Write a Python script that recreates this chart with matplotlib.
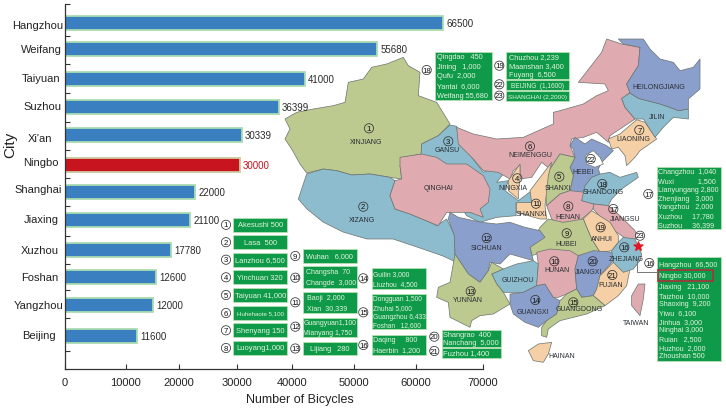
import matplotlib
matplotlib.use("Agg")
import matplotlib.pyplot as plt
from matplotlib.patches import Polygon, Circle, Rectangle

# ---------- data ----------
cities = ["Hangzhou", "Weifang", "Taiyuan", "Suzhou", "Xi'an", "Ningbo",
          "Shanghai", "Jiaxing", "Xuzhou", "Foshan", "Yangzhou", "Beijing"]
# printed value next to each bar
printed_values = [66500, 55680, 41000, 36399, 30339, 30000,
                  22000, 21100, 17780, 12600, 12000, 11600]
# bar length as it reads against the x axis
bar_lengths = [63350, 52290, 40220, 35860, 29660, 29330,
               21790, 20950, 17760, 15250, 14750, 12070]
x_tick_labels = ["0", "10000", "20000", "30000", "40000", "50000", "60000", "70000"]

box_1 = ["Akesushi 500"]
box_2 = ["Lasa  500"]
box_3 = ["Lanzhou 6,500"]
box_4 = ["Yinchuan 320"]
box_5 = ["Taiyuan 41,000"]
box_6 = ["Huhehaote 5,100"]
box_7 = ["Shenyang 150"]
box_8 = ["Luoyang1,000"]
box_9 = ["Wuhan   6,000"]
box_10 = ["Changsha  70", "Changde  3,000"]
box_11 = ["Baoji  2,000", "Xian  30,339"]
box_12 = ["Guangyuan1,100", "Mianyang 1,750"]
box_13 = ["Lijiang   280"]
box_14 = ["Guilin 3,000", "Liuzhou  4,500"]
box_15 = ["Dongguan 1,500", "Zhuhai 5,000", "Guangzhou 6,433", "Foshan   12,600"]
box_16a = ["Daqing     800", "Haerbin  1,200"]
box_16b = ["Hangzhou  66,500", "Ningbo 30,000", "Jiaxing   21,100", "Taizhou  10,000",
           "Shaoxing  9,200", "Yiwu  6,100", "Jinhua  3,000", "Ninghai 3,000",
           "Ruian   2,500", "Huzhou  2,000", "Zhoushan 500"]
box_17 = ["Changzhou  1,040", "Wuxi            1,500", "Lianyungang 2,800", "Zhenjiang   3,000",
          "Yangzhou   2,000", "Xuzhou     17,780", "Suzhou     36,399"]
box_18 = ["Qingdao   450", "Jining   1,000", "Qufu  2,000", "Yantai  6,000", "Weifang 55,680"]
box_19 = ["Chuzhou 2,239", "Maanshan 3,400", "Fuyang  6,500"]
box_20 = ["Shangrao  400", "Nanchang  5,000"]
box_21 = ["Fuzhou 1,400"]
box_22 = ["BEIJING  (1,1600)"]
box_23 = ["SHANGHAI (2,2000)"]

province_names = ["XINJIANG", "XIZANG", "GANSU", "QINGHAI", "NEIMENGGU", "NINGXIA", "SHANXI",
                  "SHANNXI", "HEBEI", "SHANDONG", "HENAN", "LIAONING", "JILIN", "HEILONGJIANG",
                  "JIANGSU", "ANHUI", "HUBEI", "SICHUAN", "HUNAN", "JIANGXI", "ZHEJIANG",
                  "FUJIAN", "GUIZHOU", "YUNNAN", "GUANGXI", "GUANGDONG", "HAINAN", "TAIWAN"]

# ---------- layout (pixels of the 726x410 picture) ----------
AX_L, AX_R, AX_T, AX_B = 65.0, 482.7, 5.0, 370.0
bar_rows_px = [24, 50, 80, 108, 136, 166, 193, 221, 251, 278, 306, 337]
y_tick_px = [5, 37, 65, 94, 123, 151, 179, 207, 237, 265, 291, 319, 352]
x_tick_px = [65, 125.7, 179, 236.7, 292.3, 354.3, 416, 482.7]
city_label_px = [(37.5, 26), (41.5, 50), (41.5, 79), (42, 107), (40, 139), (41, 163),
                 (38.5, 190), (41.5, 220), (40, 251), (39.5, 278), (38.5, 306), (39, 336)]
BLUE, RED = "#3a7fc0", "#c8141f"
EDGE_BLUE, EDGE_RED = "#a9dcb0", "#cdcaa0"
GREEN_BOX = "#0e9a49"
BOX_TEXT = "#e4f4de"
plt.rcParams["font.family"] = ["Liberation Sans", "DejaVu Sans"]

fig = plt.figure(figsize=(7.26, 4.10), dpi=100)
ax = fig.add_axes([AX_L / 726, (410 - AX_B) / 410, (AX_R - AX_L) / 726, (AX_B - AX_T) / 410])
ov = fig.add_axes([0, 0, 1, 1], zorder=5)
ov.set_xlim(0, 726); ov.set_ylim(410, 0); ov.axis("off"); ov.patch.set_alpha(0)
mp = fig.add_axes([0, 0, 1, 1], zorder=-1)
mp.set_xlim(0, 726); mp.set_ylim(410, 0); mp.axis("off")
ax.patch.set_alpha(0)

# ---------- bar chart ----------
ax.set_xlim(0, 70000)
ax.set_ylim(AX_B, AX_T)
fill = [RED if c == "Ningbo" else BLUE for c in cities]
edge = [EDGE_RED if c == "Ningbo" else EDGE_BLUE for c in cities]
bars = ax.barh(bar_rows_px, bar_lengths, height=13.5, color=fill, edgecolor=edge, linewidth=1.3)
labels = ax.bar_label(bars, labels=[str(v) for v in printed_values], padding=2.2,
                      fontsize=7, color="#2b2b2b")
labels[cities.index("Ningbo")].set_color(RED)
for s in ("top", "right"):
    ax.spines[s].set_visible(False)
for s in ("left", "bottom"):
    ax.spines[s].set_color("#333333"); ax.spines[s].set_linewidth(0.9)
x_ticks = [(p - AX_L) / (AX_R - AX_L) * 70000 for p in x_tick_px]
ax.set_xticks(x_ticks, x_tick_labels)
ax.set_yticks(y_tick_px, [""] * len(y_tick_px))
ax.tick_params(axis="x", direction="in", length=3.5, width=0.8, pad=5.5, labelsize=8,
               color="#333333", labelcolor="#222222")
ax.tick_params(axis="y", direction="in", length=3.5, width=0.8, color="#333333")
for (px, py), c in zip(city_label_px, cities):
    ov.text(px, py, c, ha="center", va="center", fontsize=8, color="#222222")
ov.text(300, 400, "Number of Bicycles", ha="center", va="center", fontsize=9, color="#222222")
ov.text(10, 145, "City", ha="center", va="center", rotation=90, fontsize=11, color="#222222")

# ---------- map ----------
GREEN_M, PINK, TEAL, PERI, TAN = "#bcc98f", "#e0abb0", "#8dbccf", "#8b9fcd", "#f5cfa6"
Z6, Z7, Z8, Z9, Z10, Z11 = (280, 50), (440, 60), (400, 200), (560, 40), (510, 130), (530, 220)

def z(origin, pts):
    return [(origin[0] + a / 3, origin[1] + b / 3) for a, b in pts]

shapes = [
    (GREEN_M, z(Z6, [(15,210),(50,190),(100,180),(160,170),(195,160),(205,100),(250,90),(275,55),(320,45),(370,25),(385,50),(420,70),(415,140),(470,160),(510,225),(475,260),(425,285),(425,315),(370,325),(360,350),(365,390),(330,385),(270,375),(215,378),(170,365),(130,360),(80,372),(60,345),(35,300),(15,270),(30,240)])),
    (TEAL, z(Z6, [(80,375),(130,360),(170,365),(215,378),(270,375),(330,385),(345,395),(330,440),(345,480),(390,495),(450,520),(470,530),(500,510),(525,560),(525,620),(530,640),(489,621),(411,594),(339,570),(261,570),(189,549),(129,519),(81,480),(55,450),(65,420)])),
    (TEAL, z(Z7, [(-55,255),(-5,230),(30,198),(50,202),(60,260),(100,265),(95,295),(130,340),(175,320),(190,345),(170,370),(205,365),(195,395),(235,425),(275,395),(275,432),(228,432),(228,470),(170,475),(120,490),(80,470),(60,440),(40,380),(-60,330)])),
    (PINK, z(Z6, [(360,325),(425,315),(470,325),(500,345),(560,345),(610,380),(630,420),(625,460),(600,480),(610,505),(570,490),(530,490),(500,490),(475,530),(450,520),(390,495),(345,480),(330,440),(345,395),(365,390),(360,350)])),
    (PINK, z(Z7, [(50,205),(100,225),(170,240),(250,235),(340,195),(340,160)]) + z(Z9, [(0,215),(70,195),(110,170),(145,155),(135,135),(55,130),(90,85),(125,40),(140,0),(185,15),(240,25),(235,80),(200,135),(210,160),(185,180),(195,205),(225,240),(150,290),(145,310),(110,280),(70,295),(35,300),(30,320)]) + z(Z10, [(195,85),(150,75),(120,120),(95,100),(65,145),(30,150),(30,110),(10,125),(0,150)]) + z(Z7, [(175,340),(130,335),(100,300),(55,255)])),
    (TAN, z(Z7, [(505,240),(540,225),(590,182),(615,190),(650,240),(600,275),(585,295),(560,320),(555,290),(535,265),(515,270)])),
    (TEAL, z(Z9, [(185,178),(210,162),(235,178),(300,195),(330,205),(355,215),(385,210),(385,240),(340,235),(310,265),(285,295),(250,240),(225,240),(195,205)])),
    (PERI, z(Z9, [(175,0),(250,0),(270,30),(300,60),(340,70),(360,95),(400,85),(420,60),(420,150),(385,180),(385,210),(355,215),(330,205),(300,195),(235,178),(210,162),(200,135),(235,80),(240,25),(190,15)])),
    (PERI, z(Z10, [(195,25),(225,45),(245,30),(290,50),(310,65),(275,100),(265,120),(270,135),(240,150),(225,190),(190,190),(180,185),(190,140),(180,115),(195,85),(190,60),(180,50)])),
    ("#ffffff", z(Z10, [(225,80),(250,65),(270,85),(280,105),(255,115),(230,105)])),
    (GREEN_M, z(Z10, [(195,85),(180,115),(190,140),(180,185),(150,195),(110,230),(105,170),(120,120),(150,75)])),
    (TAN, z(Z7, [(230,430),(275,430),(270,395),(335,310),(325,350),(315,440),(320,480),(300,480),(230,460)])),
    (TAN, z(Z7, [(205,365),(240,315),(240,360),(235,395),(235,420),(205,395)])),
    (PINK, z(Z10, [(225,190),(215,215),(255,225),(245,245),(215,270),(225,295),(165,300),(125,270),(110,230),(150,195),(180,185)])),
    (TEAL, z(Z10, [(270,135),(300,130),(330,145),(380,130),(385,145),(335,180),(305,210),(295,230),(250,225),(215,215),(225,170),(245,145)])),
    (PINK, z(Z10, [(250,225),(295,230),(330,260),(375,305),(385,330),(350,330),(320,310),(285,280),(250,240)])),
    (TAN, z(Z11, [(160,0),(185,-25),(240,10),(265,50),(265,70),(245,95),(210,100),(185,60),(170,25)])),
    (GREEN_M, z(Z11, [(30,25),(55,0),(100,10),(160,0),(170,25),(185,60),(210,100),(140,110),(100,95),(50,95),(5,110),(0,80)])),
    (PERI, z(Z8, [(150,40),(175,55),(245,70),(290,75),(330,70),(375,85),(420,95),(435,115),(390,145),(400,185),(330,165),(300,195),(270,190),(265,215),(240,250),(205,225),(165,165),(163,110),(145,60)])),
    (TEAL, z(Z8, [(275,225),(310,210),(350,195),(400,185),(415,195),(410,260),(370,280),(310,280),(290,255)])),
    (GREEN_M, z(Z8, [(165,165),(205,225),(240,250),(265,215),(275,190),(310,210),(275,225),(290,255),(310,280),(330,315),(280,345),(240,350),(215,365),(210,385),(150,355),(145,310),(110,295),(115,265),(150,250)])),
    (PERI, z(Z8, [(330,285),(370,280),(410,260),(435,255),(460,295),(480,305),(470,345),(440,365),(415,385),(375,370),(340,345),(330,315)])),
    (PINK, z(Z8, [(410,160),(450,150),(510,155),(535,170),(525,210),(530,270),(500,285),(475,295),(460,295),(435,255),(410,260),(415,195)])),
    (PERI, z(Z8, [(535,170),(580,155),(640,160),(640,185),(600,230),(590,270),(580,290),(545,295),(530,270),(525,210)])),
    (TAN, z(Z8, [(640,190),(690,210),(680,260),(655,290),(615,320),(580,290),(590,270),(600,230)])),
    (GREEN_M, z(Z8, [(480,305),(500,285),(530,270),(545,295),(580,290),(615,320),(560,345),(480,365),(445,390),(440,415),(425,410),(425,385),(440,365),(470,345)])),
    (TEAL, z(Z11, [(265,70),(280,55),(315,60),(335,105),(330,125),(310,150),(280,160),(250,130),(245,95)])),
    (TAN, z(Z8, [(385,455),(415,435),(455,430),(445,465),(430,490),(400,485)])),
    (PINK, z(Z11, [(325,195),(345,195),(340,240),(330,290),(305,260),(305,230)])),
]
for color, pts in shapes:
    mp.add_patch(Polygon(pts, closed=True, fc=color, ec="#6a736d", lw=0.5, joinstyle="round"))

province_px = [(366,142.3),(362,220.7),(447.3,151),(438,188.7),(530,155.7),(512.7,188.3),(557.3,188.3),
               (531.7,215),(583.3,172.7),(603.3,192.7),(568.3,217.3),(633.3,140),(657.3,117.3),(658.3,87.3),
               (625,220),(602.3,239.3),(566,245),(486.7,248.7),(556.7,270.7),(588.3,272.3),(626.7,259.3),
               (611,286),(518.3,281),(468.3,300.7),(532.7,312.7),(579.3,310),(561.7,356.7),(636,323.3)]
for (px, py), name in zip(province_px, province_names):
    mp.text(px, py, name, ha="center", va="center", fontsize=5.0, color="#2a2f33")

def badge(axis, x, y, n, face, r=4.6):
    axis.add_patch(Circle((x, y), r, fc=face, ec="#333333", lw=0.55))
    axis.text(x, y + 0.2, str(n), ha="center", va="center", fontsize=5.6, color="#111111")

map_badges = [(1,369,129.3),(2,363.3,207.7),(3,448.3,142.3),(6,530,147.3),(4,517.3,179.3),(5,559.3,177.7),
              (11,536,204.7),(22,590.7,160),(18,602.3,185),(8,568.3,207.3),(7,639.3,131),(17,613.3,210),
              (19,600.7,228.3),(9,566.7,234.3),(12,486.7,239),(10,554.3,262.3),(20,592.7,262.3),
              (16,624.3,248.3),(21,612.3,276),(13,470.7,292.3),(14,535.3,301),(15,573.3,303.3)]
for n, x, y in map_badges:
    badge(mp, x, y, n, "none")
badge(mp, 640, 236.7, 23, "#ffffff")

# connector and marker for Ningbo
ov.plot([637, 637, 657], [260, 273.3, 273.3], color="#777777", lw=0.7)
ov.scatter([637.7], [246.7], marker="*", s=45, color="#e3141e", zorder=6)

# ---------- green boxes ----------
def box(x0, y0, x1, y1, lines, fs, pad, line_y=None):
    ov.add_patch(Rectangle((x0, y0), x1 - x0, y1 - y0, fc=GREEN_BOX, ec="#bfe3b5", lw=0.5))
    step = (y1 - y0) / len(lines)
    for i, t in enumerate(lines):
        yy = line_y[i] if line_y else y0 + step * (i + 0.5)
        if pad is None:
            ov.text((x0 + x1) / 2, yy, t, ha="center", va="center", fontsize=fs, color=BOX_TEXT)
        else:
            ov.text(x0 + pad, yy, t, ha="left", va="center", fontsize=fs, color=BOX_TEXT)

box_layout = [
    (233.3,219,287.3,232.7,box_1,5.4,None),(233.3,236.3,287.3,250,box_2,5.4,None),
    (233.3,253.7,287.3,267.7,box_3,5.4,None),(233.3,271.3,287.3,285.3,box_4,5.4,None),
    (233.3,289.3,287.3,303,box_5,5.4,None),(233.3,307,287.3,321,box_6,4.4,None),
    (233.3,324.3,287.3,338.3,box_7,5.4,None),(233.3,342,287.3,356,box_8,5.5,None),
    (302.7,250,356.7,264,box_9,5.2,None),(302.7,266.7,356.7,288.7,box_10,5.0,3.3),
    (302.7,292.7,356.7,314.3,box_11,5.1,4.3),(302.7,318.7,356.7,338.3,box_12,4.95,0.6),
    (302.7,343.3,356.7,356,box_13,5.3,None),(372,269,426,290,box_14,4.9,1.3),
    (372,295,426,330.3,box_15,4.75,1.0),(372,336,426,356,box_16a,5.1,1.3),
    (441.7,330.7,500.7,348,box_20,5.3,1.6),(441.7,349.3,500.7,358.7,box_21,5.4,1.6),
    (435,52.7,491.7,101,box_18,5.3,1.7),(506,52.7,568.7,80,box_19,5.3,3.3),
    (506,81,568.7,91,box_22,4.7,None),(506,92.3,568.7,101.7,box_23,4.55,None),
    (656.7,168.3,721,230,box_17,5.1,1.6),
]
for x0, y0, x1, y1, lines, fs, pad in box_layout:
    box(x0, y0, x1, y1, lines, fs, pad)
box_16b_line_y = [265.3, 276.7, 288, 296.5, 305, 313.7, 322.3, 331, 340, 348.7, 357]
box(657.3, 258.3, 721, 361.7, box_16b, 5.1, 2.0, box_16b_line_y)

ov.add_patch(Rectangle((657.7, 270.7), 55, 11.6, fc="none", ec="#a8323a", lw=1.2))

legend_badges = [(1,226,225.8),(2,226,243.2),(3,226,260.7),(4,226,278.3),(5,226,296),(6,226,314),(7,226,331.3),(8,226,349),
                 (9,295.3,257),(10,295.3,278.7),(11,295.3,303.3),(12,295.3,327.7),(13,295.3,349.5),
                 (14,363.3,279.3),(15,363.3,313.3),(16,363.3,346),(20,434.3,337.7),(21,434.3,352),
                 (18,426.7,71),(19,499.3,66.7),(22,499.3,85.3),(23,499.3,96.7),(17,648.3,195),(16,649.3,264)]
for n, x, y in legend_badges:
    badge(ov, x, y, n, "#ffffff")

fig.savefig("out.png", dpi=100)
